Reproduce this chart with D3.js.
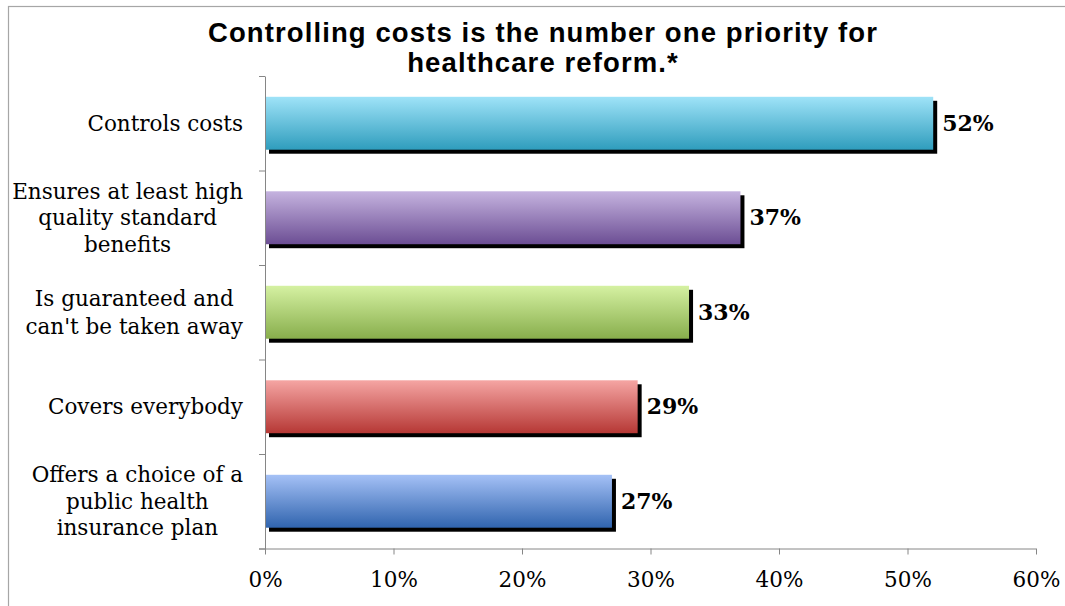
<!DOCTYPE html>
<html>
<head>
<meta charset="utf-8">
<script src="https://cdn.jsdelivr.net/npm/d3@7"></script>
<style>
  html, body { margin: 0; padding: 0; background: #fff; }
  svg { display: block; }
</style>
</head>
<body>
<svg id="chart" width="1065" height="606"></svg>
<script>
// Survey results: share naming each feature as the top priority
const categories = [
  ["Controls costs"],
  ["Ensures at least high", "quality standard", "benefits"],
  ["Is guaranteed and", "can't be taken away"],
  ["Covers everybody"],
  ["Offers a choice of a", "public health", "insurance plan"]
];
const values = [0.52, 0.37, 0.33, 0.29, 0.27];
const valueLabels = ["52%", "37%", "33%", "29%", "27%"];
const xTicks = [0, 0.1, 0.2, 0.3, 0.4, 0.5, 0.6];
const gradientTop = ["#9fe3f8", "#c5b3df", "#d5f1a2", "#f5a5a3", "#a5c1f6"];
const gradientBottom = ["#2f9dbd", "#6c4e94", "#88ae4c", "#b63835", "#3064ae"];
const titleLines = ["Controlling costs is the number one priority for", "healthcare reform.*"];

const svg = d3.select("#chart");
const keys = categories.map((c, i) => "c" + i);

const x = d3.scaleLinear().domain([0, 0.6]).range([265, 1036]);
const y = d3.scaleBand().domain(keys).range([76, 548.5]).paddingInner(0.44).paddingOuter(0.22);
const yBoundary = d3.scaleLinear().domain([0, categories.length]).range([76, 548.5]);

// outer frame
svg.append("rect")
  .attr("x", 8.5).attr("y", 6.5)
  .attr("width", 1100).attr("height", 700)
  .attr("fill", "none").attr("stroke", "#a6a6a6").attr("stroke-width", 1.2);

// title
svg.append("g").selectAll("text").data(titleLines).join("text")
  .attr("x", 543).attr("y", (d, i) => 42 + i * 30)
  .attr("text-anchor", "middle")
  .attr("font-family", "Liberation Sans, Arial, sans-serif")
  .attr("font-weight", "bold").attr("font-size", 27.5)
  .attr("letter-spacing", 1.1)
  .attr("fill", "#000")
  .text(d => d);

// gradients
const defs = svg.append("defs");
values.forEach((v, i) => {
  const g = defs.append("linearGradient").attr("id", "grad" + i)
    .attr("x1", 0).attr("y1", 0).attr("x2", 0).attr("y2", 1);
  g.append("stop").attr("offset", "0%").attr("stop-color", gradientTop[i]);
  g.append("stop").attr("offset", "100%").attr("stop-color", gradientBottom[i]);
});

const data = values.map((v, i) => ({ key: keys[i], value: v, label: valueLabels[i], lines: categories[i], i }));

// drop shadows
svg.append("g").selectAll("rect").data(data).join("rect")
  .attr("x", x(0) + 4).attr("y", d => y(d.key) + 4)
  .attr("width", d => x(d.value) - x(0)).attr("height", y.bandwidth())
  .attr("fill", "#000");

// bars
svg.append("g").selectAll("rect").data(data).join("rect")
  .attr("x", x(0)).attr("y", d => y(d.key))
  .attr("width", d => x(d.value) - x(0)).attr("height", y.bandwidth())
  .attr("fill", d => `url(#grad${d.i})`);

// value labels
svg.append("g").selectAll("text").data(data).join("text")
  .attr("x", d => x(d.value) + 9)
  .attr("y", d => y(d.key) + y.bandwidth() / 2 + 7.5)
  .attr("font-family", "DejaVu Serif, serif")
  .attr("font-weight", "bold").attr("font-size", 22)
  .attr("fill", "#000")
  .text(d => d.label);

// x axis
const xAxis = svg.append("g")
  .attr("transform", `translate(0,${yBoundary(categories.length)})`)
  .call(d3.axisBottom(x).tickValues(xTicks).tickFormat(d3.format(".0%")).tickSize(6).tickSizeOuter(0).tickPadding(17));
xAxis.select(".domain").attr("stroke", "#868686").attr("d", `M259,0.5H${x(0.6)}`);
xAxis.selectAll(".tick line").attr("stroke", "#868686");
xAxis.selectAll(".tick text")
  .attr("font-family", "DejaVu Serif, serif").attr("font-size", 21.5).attr("fill", "#000");

// y axis (ticks on category boundaries)
const yAxis = svg.append("g")
  .attr("transform", `translate(${x(0)},0)`)
  .call(d3.axisLeft(yBoundary).tickValues(d3.range(categories.length + 1)).tickFormat("").tickSize(6).tickSizeOuter(0));
yAxis.select(".domain").attr("stroke", "#868686");
yAxis.selectAll(".tick line").attr("stroke", "#868686");

// category labels: centered lines, block right-aligned to the axis
const labelG = svg.append("g");
data.forEach(d => {
  const g = labelG.append("g");
  const n = d.lines.length;
  const lh = n === 3 ? 26.5 : 28;
  const cy = y(d.key) + y.bandwidth() / 2;
  const texts = g.selectAll("text").data(d.lines).join("text")
    .attr("y", (t, j) => cy + (j - (n - 1) / 2) * lh + 7.5)
    .attr("text-anchor", "middle")
    .attr("font-family", "DejaVu Serif, serif").attr("font-size", 21.5)
    .attr("fill", "#000")
    .text(t => t);
  let maxW = 0;
  texts.each(function () { maxW = Math.max(maxW, this.getComputedTextLength()); });
  texts.attr("x", 243 - maxW / 2);
});
</script>
</body>
</html>
